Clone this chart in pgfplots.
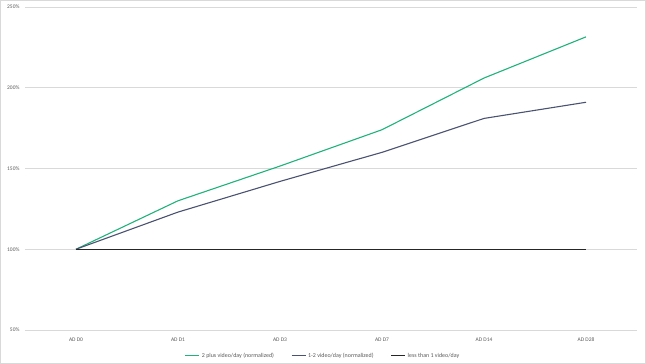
\documentclass[border=0pt]{standalone}
\usepackage{pgfplots}
\pgfplotsset{compat=1.18}
\usepackage{fontspec}
\setmainfont{Carlito}
\definecolor{cgreen}{HTML}{1FB27A}
\definecolor{cnavy}{HTML}{4A5272}
\definecolor{cblack}{HTML}{262626}
\definecolor{cgrid}{HTML}{D9D9D9}
\definecolor{ctext}{HTML}{595959}
\begin{document}
\begin{tikzpicture}
\draw[cgrid, line width=0.75bp] (0.4bp,0.4bp) rectangle (645.6bp,363.6bp);
\begin{axis}[
  at={(25bp,34bp)}, anchor=south west,
  scale only axis, width=612bp, height=323bp,
  xmin=-0.5, xmax=5.5, ymin=50, ymax=250,
  xtick={0,1,2,3,4,5},
  xticklabels={AD D0,AD D1,AD D3,AD D7,AD D14,AD D28},
  ytick={50,100,150,200,250},
  yticklabel={\pgfmathprintnumber{\tick}\%},
  /pgf/number format/assume math mode=true,
  ymajorgrids, grid style={cgrid, line width=0.75bp},
  axis line style={draw=none},
  major tick length=0pt,
  tick label style={font=\fontsize{5.5}{6}\selectfont, text=ctext},
  xticklabel style={yshift=-4bp},
  yticklabel style={xshift=-2bp},
  legend style={at={(0.487,-0.058)}, anchor=north, draw=none, fill=none,
    font=\fontsize{6}{6.5}\selectfont, legend columns=3,
    /tikz/every even column/.append style={column sep=15bp}},
  legend image code/.code={\draw[mark repeat=2,mark phase=2,#1] (0bp,0bp) -- (14bp,0bp);},
]
\addplot[cgreen, line width=1.1bp] coordinates {(0,100) (1,130) (2,151.5) (3,174) (4,206) (5,231.5)};
\addlegendentry{\textcolor{ctext}{2 plus video/day (normalized)}}
\addplot[cnavy, line width=1.1bp] coordinates {(0,100) (1,123) (2,142) (3,160) (4,181) (5,191)};
\addlegendentry{\textcolor{ctext}{1-2 video/day (normalized)}}
\addplot[cblack, line width=1.1bp] coordinates {(0,100) (1,100) (2,100) (3,100) (4,100) (5,100)};
\addlegendentry{\textcolor{ctext}{less than 1 video/day}}
\end{axis}
\end{tikzpicture}
\end{document}
